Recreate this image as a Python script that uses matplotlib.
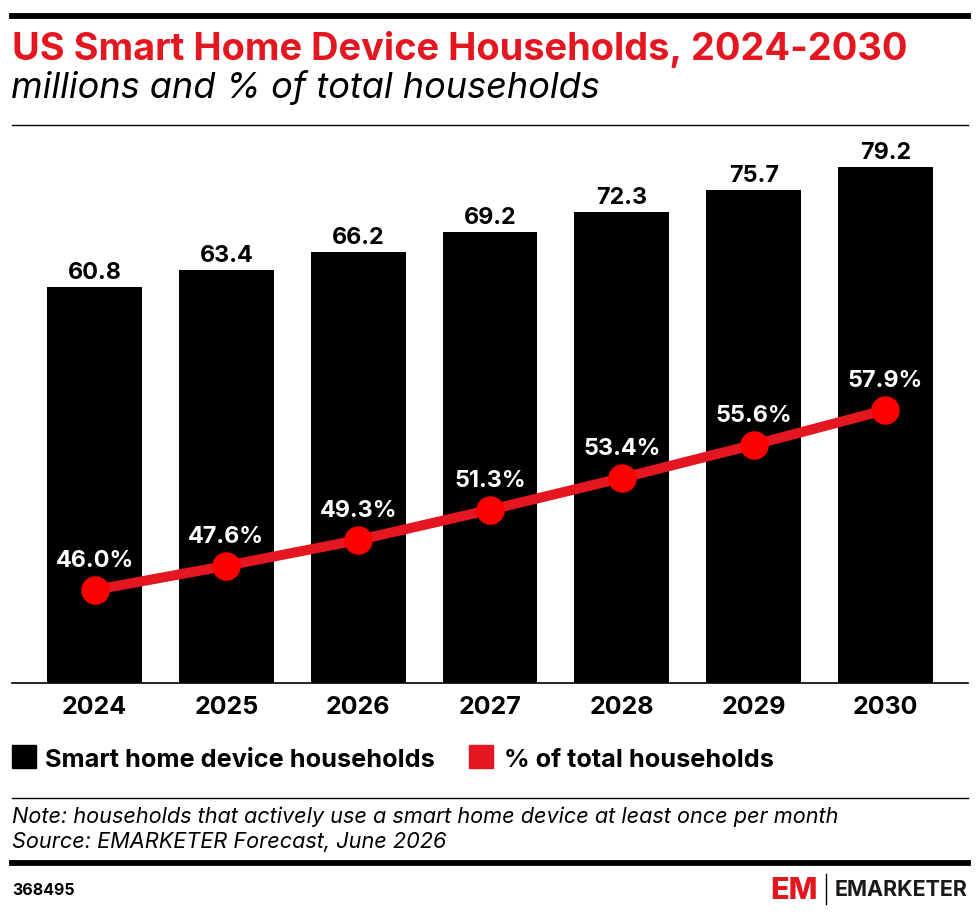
import matplotlib
matplotlib.use("Agg")
import matplotlib.pyplot as plt
from matplotlib.lines import Line2D
from matplotlib.patches import Rectangle

years = ["2024", "2025", "2026", "2027", "2028", "2029", "2030"]
households = [60.8, 63.4, 66.2, 69.2, 72.3, 75.7, 79.2]
pct_total = [46.0, 47.6, 49.3, 51.3, 53.4, 55.6, 57.9]

RED = "#e4161f"
W, H = 980, 915

plt.rcParams["font.family"] = ["Inter", "DejaVu Sans"]

fig = plt.figure(figsize=(W / 100, H / 100), dpi=100)


def fx(x):
    return x / W


def fy(y):
    return 1 - y / H


def hline(y, lw, x0=12, x1=968):
    fig.add_artist(Line2D([fx(x0), fx(x1)], [fy(y), fy(y)], color="black",
                          lw=lw, transform=fig.transFigure))


# header
hline(15.5, 4.2)
fig.text(fx(12), fy(60), "US Smart Home Device Households, 2024-2030",
         color=RED, fontsize=27.3, fontweight="bold", va="baseline")
fig.text(fx(11), fy(98), "millions and % of total households",
         fontsize=26, style="italic", va="baseline")
hline(125, 1.0)

# chart area
ax = fig.add_axes([fx(12), fy(683), fx(968) - fx(12), fy(130) - fy(683)])
xs = list(range(len(years)))
ax.bar(xs, households, width=0.72, color="black", zorder=1)
ax.set_xlim(-0.626, 6.626)
ax.set_ylim(0, 84.9)
for x, v in zip(xs, households):
    ax.text(x, v + 1.2, f"{v:.1f}", ha="center", va="baseline",
            fontsize=16.8, fontweight="bold")
ax.set_xticks(xs)
ax.set_xticklabels(years, fontsize=18, fontweight="bold")
ax.tick_params(axis="x", length=0, pad=9)
ax.set_yticks([])
for s in ["top", "left", "right"]:
    ax.spines[s].set_visible(False)
ax.spines["bottom"].set_linewidth(1.2)

ax2 = ax.twinx()
ax2.plot(xs, pct_total, color=RED, lw=7.2, zorder=3, solid_capstyle="round")
ax2.plot(xs, pct_total, "o", color="#ff0000", ms=19.5, zorder=4)
ax2.set_ylim(39.85, 76.41)
for x, v in zip(xs, pct_total):
    ax2.text(x, v + 1.5, f"{v:.1f}%", ha="center", va="baseline",
             fontsize=16.8, fontweight="bold", color="white", zorder=5)
ax2.set_yticks([])
for s in ax2.spines.values():
    s.set_visible(False)

# legend
fig.add_artist(Rectangle((fx(12), fy(768)), fx(24), 23 / H, color="black",
                         transform=fig.transFigure))
fig.text(fx(45), fy(767), "Smart home device households", fontsize=18.2,
         fontweight="bold", va="baseline")
fig.add_artist(Rectangle((fx(469), fy(768)), fx(24), 23 / H, color=RED,
                         transform=fig.transFigure))
fig.text(fx(504), fy(767), "% of total households", fontsize=18.2,
         fontweight="bold", va="baseline")

# notes
hline(798, 1.0)
fig.text(fx(12), fy(823),
         "Note: households that actively use a smart home device at least once per month",
         fontsize=15.6, style="italic", va="baseline")
fig.text(fx(12), fy(848), "Source: EMARKETER Forecast, June 2026",
         fontsize=15.6, style="italic", va="baseline")
hline(862.5, 4.2)

# footer
fig.text(fx(12), fy(895), "368495", fontsize=11.5, fontweight="bold",
         va="baseline")
fig.text(fx(818), fy(899), "EM", color=RED, fontsize=22, fontweight="heavy",
         ha="right", va="baseline")
fig.add_artist(Line2D([fx(826), fx(826)], [fy(874), fy(904)], color="black",
                      lw=1.0, transform=fig.transFigure))
fig.text(fx(835), fy(896), "EMARKETER", color="#1a1a1a", fontsize=15.5,
         fontweight="bold", va="baseline")

fig.savefig("out.png", dpi=100)
